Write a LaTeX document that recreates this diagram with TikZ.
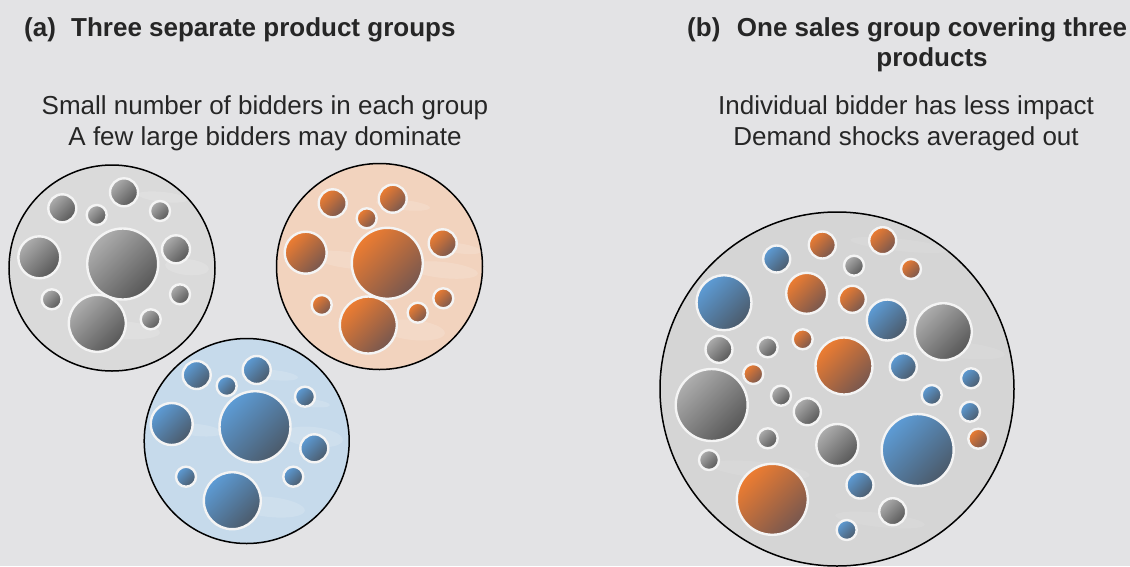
\documentclass[tikz,border=0pt]{standalone}
\usepackage{fontspec}
\setmainfont{Liberation Sans}
\definecolor{pagebg}{HTML}{E3E3E5}
\definecolor{ink}{HTML}{262626}
\definecolor{rim}{HTML}{F4F4F4}
\definecolor{poolgrey}{HTML}{DADADA}
\definecolor{poolorange}{HTML}{F2D3BE}
\definecolor{poolblue}{HTML}{C6DAEB}
\definecolor{poolmix}{HTML}{D5D5D5}
\definecolor{greyA}{HTML}{AEAEAE}
\definecolor{greyB}{HTML}{575757}
\definecolor{orangeA}{HTML}{EE7D31}
\definecolor{orangeB}{HTML}{77574F}
\definecolor{blueA}{HTML}{5D9CD6}
\definecolor{blueB}{HTML}{4B5A6A}
\tikzset{
 headline/.style={font=\fontsize{26}{29}\selectfont\bfseries, text=ink, inner sep=0pt},
 bodyline/.style={font=\fontsize{26}{31}\selectfont, text=ink, inner sep=0pt},
 pool/.style={draw=black, line width=1.5pt},
 haze/.style={white, opacity=0.15},
 faint/.style={white, opacity=0.08},
 bubble/.style={draw=rim, line width=2.4pt},
 greybub/.style={bubble, top color=greyA, bottom color=greyB, shading angle=45},
 orangebub/.style={bubble, top color=orangeA, bottom color=orangeB, shading angle=45},
 bluebub/.style={bubble, top color=blueA, bottom color=blueB, shading angle=45}
}
\begin{document}
\begin{tikzpicture}[x=1pt,y=-1pt]
 \useasboundingbox (0,0) rectangle (1130,566); 
 \fill[pagebg] (0,0) rectangle (1130,566); 
 \node (taga) [headline, anchor=base west] at (24,36.5) {(a)}; 
 \node (titlea) [headline, anchor=base west] at (71,36.5) {Three separate product groups}; 
 \node (tagb) [headline, anchor=base west] at (687,36.5) {(b)}; 
 \node (titleb) [headline, anchor=base] at (932,36.5) {One sales group covering three}; 
 \node (titleb2) [headline, anchor=base] at (932,66.5) {products}; 
 \node (notea) [bodyline, anchor=base] at (265,114) {Small number of bidders in each group}; 
 \node (notea2) [bodyline, anchor=base] at (265,145) {A few large bidders may dominate}; 
 \node (noteb) [bodyline, anchor=base] at (906,114) {Individual bidder has less impact}; 
 \node (noteb2) [bodyline, anchor=base] at (906,145) {Demand shocks averaged out}; 
 % grey group
 \draw[pool, fill=poolgrey] (112,268) circle (103); 
 \fill[haze, rotate around={-6:(163,197)}] (163,197) ellipse (25 and 5); 
 \fill[haze, rotate around={-6:(187,267)}] (187,267) ellipse (22 and 8); 
 \fill[haze, rotate around={-4:(120,330)}] (120,330) ellipse (40 and 9); 
 \draw[greybub] (97.3,323.3) circle (28.5); 
 \draw[greybub] (122.7,264) circle (35.5); 
 \draw[greybub] (39.3,257.3) circle (21); 
 \draw[greybub] (124,192.3) circle (14); 
 \draw[greybub] (62.3,208.3) circle (14); 
 \draw[greybub] (96.7,215) circle (10); 
 \draw[greybub] (160,211) circle (10); 
 \draw[greybub] (176,249.3) circle (14); 
 \draw[greybub] (180,294.3) circle (10); 
 \draw[greybub] (150.7,319.3) circle (10); 
 \draw[greybub] (51.7,299.3) circle (10); 
 % orange group
 \draw[pool, fill=poolorange] (379.5,266.5) circle (103); 
 \fill[haze, rotate around={-6:(403,205)}] (403,205) ellipse (27 and 5); 
 \fill[haze, rotate around={-8:(346.7,260)}] (346.7,260) ellipse (35 and 8); 
 \fill[haze, rotate around={-6:(443,270)}] (443,270) ellipse (35 and 8); 
 \fill[haze, rotate around={-6:(413,330)}] (413,330) ellipse (32 and 10); 
 \fill[haze, rotate around={-8:(456.7,248)}] (456.7,248) ellipse (25 and 5); 
 \draw[orangebub] (368.3,325) circle (28.5); 
 \draw[orangebub] (387.3,263.3) circle (35.5); 
 \draw[orangebub] (305.7,252.7) circle (21); 
 \draw[orangebub] (332.7,203.3) circle (14); 
 \draw[orangebub] (392.7,198.7) circle (14); 
 \draw[orangebub] (366.7,218.3) circle (10); 
 \draw[orangebub] (442.7,243.3) circle (14); 
 \draw[orangebub] (443.3,298.3) circle (10); 
 \draw[orangebub] (417.7,312.7) circle (10); 
 \draw[orangebub] (321.7,305) circle (10); 
 % blue group
 \draw[pool, fill=poolblue] (246.7,441) circle (102.5); 
 \fill[haze, rotate around={-6:(273,375)}] (273,375) ellipse (25 and 5); 
 \fill[haze, rotate around={-6:(313,437)}] (313,437) ellipse (30 and 10); 
 \fill[haze, rotate around={-6:(270,507)}] (270,507) ellipse (35 and 10); 
 \fill[haze, rotate around={-6:(197,430)}] (197,430) ellipse (25 and 6); 
 \fill[haze, rotate around={-6:(310,403)}] (310,403) ellipse (20 and 4); 
 \draw[bluebub] (232.3,500.7) circle (28.5); 
 \draw[bluebub] (255,426.7) circle (35.5); 
 \draw[bluebub] (171.7,424) circle (21); 
 \draw[bluebub] (196.7,375) circle (14); 
 \draw[bluebub] (256.7,370) circle (14); 
 \draw[bluebub] (226.7,386) circle (10); 
 \draw[bluebub] (305,396.7) circle (10); 
 \draw[bluebub] (314.3,448.3) circle (14); 
 \draw[bluebub] (293.3,476.7) circle (10); 
 \draw[bluebub] (186,476.7) circle (10); 
 % one mixed group
 \draw[pool, fill=poolmix] (837,389) circle (177); 
 \fill[faint, rotate around={-6:(900,245)}] (900,245) ellipse (50 and 6); 
 \fill[faint, rotate around={-6:(960,350)}] (960,350) ellipse (45 and 8); 
 \fill[faint, rotate around={-6:(760,470)}] (760,470) ellipse (50 and 8); 
 \fill[faint, rotate around={-6:(880,520)}] (880,520) ellipse (45 and 7); 
 \draw[bluebub] (724,302.7) circle (27.5); 
 \draw[bluebub] (776.7,259) circle (13.5); 
 \draw[bluebub] (887.3,320) circle (20.5); 
 \draw[bluebub] (903.3,366.7) circle (13.5); 
 \draw[bluebub] (971,378.3) circle (10); 
 \draw[bluebub] (931.7,395) circle (10); 
 \draw[bluebub] (970,411.7) circle (10); 
 \draw[bluebub] (917.7,450) circle (36); 
 \draw[bluebub] (860,485) circle (13.5); 
 \draw[bluebub] (846.7,530) circle (10); 
 \draw[orangebub] (822.3,245) circle (13.5); 
 \draw[orangebub] (882.7,240.7) circle (13.5); 
 \draw[orangebub] (911,269) circle (10); 
 \draw[orangebub] (806.7,293.3) circle (20.5); 
 \draw[orangebub] (852.3,299.3) circle (13.5); 
 \draw[orangebub] (802.7,339.3) circle (10); 
 \draw[orangebub] (844,366) circle (28.5); 
 \draw[orangebub] (753.3,374) circle (10); 
 \draw[orangebub] (978.3,438.7) circle (10); 
 \draw[orangebub] (772.3,499.3) circle (35.5); 
 \draw[greybub] (854,265.7) circle (10); 
 \draw[greybub] (943.3,331.7) circle (28.5); 
 \draw[greybub] (719,349.3) circle (13.5); 
 \draw[greybub] (767.7,347.3) circle (10); 
 \draw[greybub] (711.7,405) circle (36); 
 \draw[greybub] (781,395.7) circle (10); 
 \draw[greybub] (807.3,411.7) circle (13.5); 
 \draw[greybub] (767.7,438.3) circle (10); 
 \draw[greybub] (709,460) circle (10); 
 \draw[greybub] (837.3,445) circle (21); 
 \draw[greybub] (892.7,511.7) circle (13.5); 
\end{tikzpicture}
\end{document}
